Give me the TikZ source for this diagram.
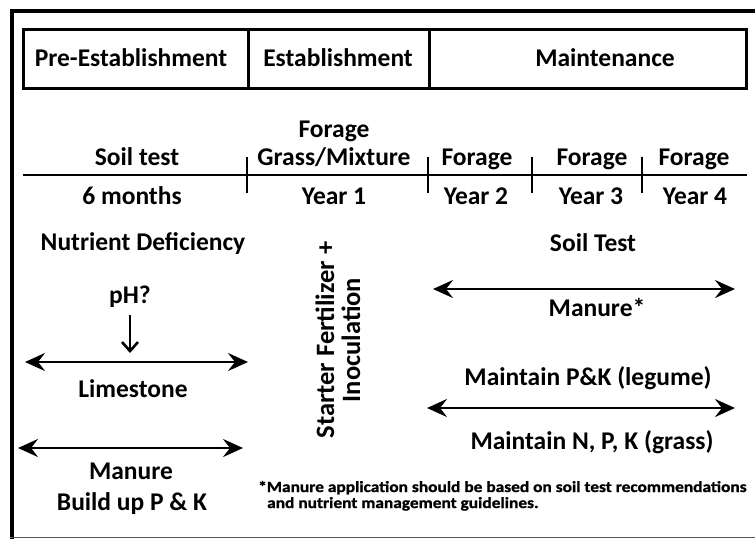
\documentclass[tikz,border=0pt]{standalone}
\usepackage{fontspec}
\setmainfont{Carlito}
\newfontfamily\notefont[FakeStretch=1.12,FakeBold=1.2]{Carlito}
\usetikzlibrary{arrows.meta,positioning}

\tikzset{
  txt/.style={font=\fontsize{25.5}{28}\selectfont\bfseries, inner sep=0pt, anchor=base},
  note/.style={font=\notefont\fontsize{15.5}{17}\selectfont\bfseries, inner sep=0pt, anchor=base west},
  span/.style={{Stealth[length=20pt,width=18pt,inset=7pt]}-{Stealth[length=20pt,width=18pt,inset=7pt]}, line width=2.6pt},
  dnarrow/.style={-{Straight Barb[length=9pt,width=16pt]}, line width=2.6pt},
  tickmark/.style={line width=2.6pt}
}

\begin{document}
\begin{tikzpicture}[x=1pt, y=-1pt]
  \useasboundingbox (0,0) rectangle (755,539);

  % Outer frame
  \draw[line width=4pt] (11.5,539) -- (11.5,10.5) -- (755,10.5);
  \draw[gray!70!black, line width=1.2pt] (10,537.5) -- (755,537.5);

  % Phase boxes
  \draw[line width=3pt] (23,29) rectangle (746,88);
  \draw[line width=3pt] (248,29) -- (248,88);
  \draw[line width=3pt] (429,29) -- (429,88);
  \node[txt] (pre) at (131,66) {Pre-Establishment};
  \node[txt] (est) at (338,66) {Establishment};
  \node[txt] (maint) at (605,66) {Maintenance};

  % Time line
  \coordinate (tl0) at (23,175);
  \coordinate (tl1) at (747,175);
  \draw[tickmark] (tl0) -- (tl1);
  \foreach \tx in {247,428,532,642}
    \draw[tickmark] (\tx,157) -- (\tx,193);

  \node[txt] (soiltest) at (137,165) {Soil test};
  \node[txt] (forage1) at (334,137) {Forage};
  \node[txt] (grass) at (334,165) {Grass/Mixture};
  \node[txt] (forage2) at (477,165) {Forage};
  \node[txt] (forage3) at (592,165) {Forage};
  \node[txt] (forage4) at (694,165) {Forage};

  \node[txt] (months) at (132,204) {6 months};
  \node[txt] (yr1) at (334,204) {Year 1};
  \node[txt] (yr2) at (476,204) {Year 2};
  \node[txt] (yr3) at (591,204) {Year 3};
  \node[txt] (yr4) at (695,204) {Year 4};

  % Pre-establishment
  \node[txt] (deficiency) at (143,250) {Nutrient Deficiency};
  \node[txt] (ph) at (130,303) {pH?};
  \coordinate (lime0) at (25,362);
  \coordinate (lime1) at (248,362);
  \coordinate (phend) at (130,353);
  \draw[dnarrow] (ph.south |- 0,315) -- (phend);
  \draw[span] (lime0) -- (lime1);
  \node[txt] (lime) at (133,397) {Limestone};
  \coordinate (man0) at (18,448);
  \coordinate (man1) at (243,448);
  \draw[span] (man0) -- (man1);
  \node[txt] (manure) at (131,479) {Manure};
  \node[txt] (buildup) at (132,510) {Build up P \& K};

  % Establishment
  \node[font=\fontsize{26.5}{26}\selectfont\bfseries, inner sep=0pt, align=center, rotate=90] (starter) at (338,340) {Starter Fertilizer +\\Inoculation};

  % Maintenance
  \node[txt] (soiltest2) at (593,251) {Soil Test};
  \coordinate (mm0) at (433,289);
  \coordinate (mm1) at (735,289);
  \draw[span] (mm0) -- (mm1);
  \node[txt] (manure2) at (597,316) {Manure*};
  \node[txt] (legume) at (588,385) {Maintain P\&K (legume)};
  \coordinate (np0) at (427,408);
  \coordinate (np1) at (735,408);
  \draw[span] (np0) -- (np1);
  \node[txt] (grassnpk) at (592,449) {Maintain N, P, K (grass)};

  % Footnote
  \node[note] (fn1) at (258,492) {*Manure application should be based on soil test recommendations};
  \node[note] (fn2) at (267,508) {and nutrient management guidelines.};
\end{tikzpicture}
\end{document}
